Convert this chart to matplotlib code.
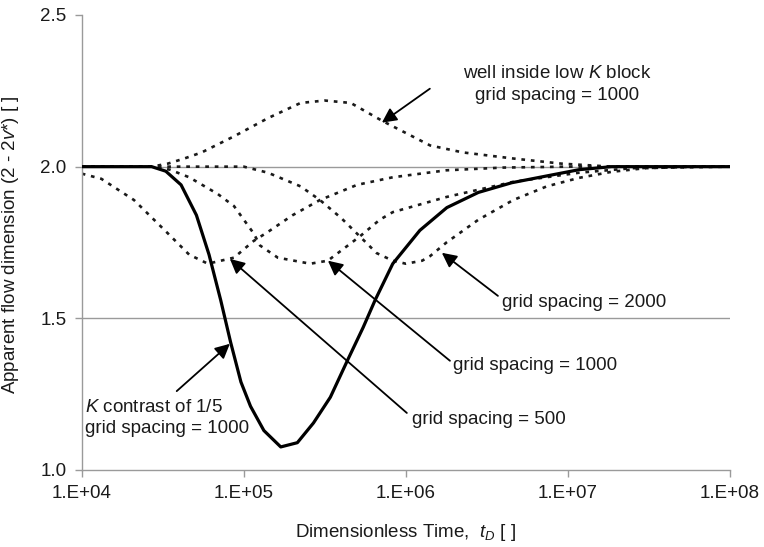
import matplotlib
matplotlib.use('Agg')
import numpy as np
from matplotlib import pyplot as plt

# K contrast of 1/5, grid spacing 1000 (solid)
t_contrast = [1.0e4, 2.0e4, 2.7e4, 3.3e4, 4.1e4, 5.1e4, 6.1e4, 7.2e4, 8.3e4, 9.6e4,
              1.1e5, 1.33e5, 1.69e5, 2.14e5, 2.69e5, 3.42e5, 4.35e5, 5.45e5, 6.46e5,
              8.3e5, 1.22e6, 1.79e6, 2.8e6, 4.5e6, 1.17e7, 1.86e7, 1.0e8]
n_contrast = [2.0, 2.0, 2.0, 1.985, 1.94, 1.84, 1.71, 1.56, 1.42, 1.29,
              1.21, 1.13, 1.076, 1.09, 1.155, 1.24, 1.36, 1.47, 1.56,
              1.68, 1.79, 1.865, 1.915, 1.947, 1.99, 2.0, 2.0]

# well inside low K block, grid spacing 1000
t_lowk = [1.0e4, 2.7e4, 3.4e4, 4.3e4, 5.5e4, 8.7e4, 1.41e5, 2.24e5, 3.16e5, 4.57e5,
          7.2e5, 1.41e6, 2.24e6, 4.57e6, 9.1e6, 1.86e7, 1.0e8]
n_lowk = [2.0, 2.0, 2.01, 2.027, 2.047, 2.10, 2.16, 2.21, 2.218, 2.21,
          2.15, 2.07, 2.047, 2.027, 2.01, 2.0, 2.0]

# grid spacing 500
t_500 = [1.0e4, 1.32e4, 2.1e4, 3.4e4, 4.6e4, 6.0e4, 8.7e4, 1.15e5, 1.41e5, 2.0e5,
         2.95e5, 5.0e5, 8.3e5, 1.78e6, 4.0e6, 1.0e7, 1.0e8]
n_500 = [1.977, 1.96, 1.89, 1.78, 1.71, 1.68, 1.70, 1.755, 1.785, 1.84,
         1.89, 1.94, 1.965, 1.988, 1.997, 2.0, 2.0]

# grid spacing 1000
t_1000 = [1.0e4, 2.7e4, 3.5e4, 4.6e4, 6.9e4, 8.7e4, 1.15e5, 1.26e5, 1.62e5, 2.57e5,
          3.3e5, 5.2e5, 6.9e5, 8.3e5, 1.78e6, 4.6e6, 1.17e7, 2.5e7, 1.0e8]
n_1000 = [2.0, 2.0, 1.99, 1.965, 1.91, 1.87, 1.78, 1.74, 1.70, 1.68,
          1.69, 1.77, 1.825, 1.85, 1.90, 1.95, 1.98, 1.995, 2.0]

# grid spacing 2000
t_2000 = [1.0e4, 1.0e5, 1.41e5, 2.24e5, 2.95e5, 4.0e5, 5.2e5, 6.6e5, 8.3e5, 1.0e6,
          1.26e6, 1.41e6, 1.78e6, 2.8e6, 4.6e6, 7.4e6, 1.17e7, 1.86e7, 3.0e7, 6.3e7, 1.0e8]
n_2000 = [2.0, 2.0, 1.98, 1.935, 1.89, 1.83, 1.77, 1.715, 1.69, 1.68,
          1.69, 1.705, 1.75, 1.825, 1.89, 1.935, 1.963, 1.983, 1.995, 2.0, 2.0]

x_ticks = [1e4, 1e5, 1e6, 1e7, 1e8]
x_tick_labels = ['1.E+04', '1.E+05', '1.E+06', '1.E+07', '1.E+08']
y_ticks = [1.0, 1.5, 2.0, 2.5]
y_tick_labels = ['1.0', '1.5', '2.0', '2.5']


def main():
    plt.rcParams['font.family'] = ['Liberation Sans', 'DejaVu Sans']
    plt.rcParams['font.size'] = 13.5
    plt.rcParams['mathtext.fontset'] = 'custom'
    plt.rcParams['mathtext.rm'] = 'Liberation Sans'
    plt.rcParams['mathtext.it'] = 'Liberation Sans:italic'
    txt = '#1a1a1a'
    gray = '#9a9a9a'

    fig = plt.figure(figsize=(7.64, 5.47), dpi=100)
    ax = fig.add_axes([0.107, 0.1408, 0.8485, 0.8318])

    ax.axhline(2.0, color=gray, lw=1.0, zorder=1)
    ax.axhline(1.5, color=gray, lw=1.0, zorder=1)

    dots = dict(color='#1a1a1a', lw=1.9, linestyle=(0, (1.4, 2.2)), zorder=2)
    ax.plot(t_lowk, n_lowk, **dots)
    ax.plot(t_500, n_500, **dots)
    ax.plot(t_1000, n_1000, **dots)
    ax.plot(t_2000, n_2000, **dots)
    ax.plot(t_contrast, n_contrast, color='black', lw=2.3, zorder=3)

    ax.set_xscale('log')
    ax.set_xlim(1e4, 1e8)
    ax.set_ylim(1.0, 2.5)
    ax.set_xticks(x_ticks)
    ax.set_xticklabels(x_tick_labels)
    ax.minorticks_off()
    ax.set_yticks(y_ticks)
    ax.set_yticklabels(y_tick_labels)
    ax.tick_params(axis='both', direction='out', length=5, width=1, color=gray,
                   labelcolor=txt, labelsize=13.5, pad=6)
    for side in ['top', 'right']:
        ax.spines[side].set_visible(False)
    for side in ['left', 'bottom']:
        ax.spines[side].set_color(gray)
        ax.spines[side].set_linewidth(1.0)

    ax.set_xlabel(r'Dimensionless Time,  $\mathit{t}_{\mathit{D}}$ [ ]', color=txt, fontsize=13.5)
    ax.xaxis.set_label_coords(0.5, -0.114)
    ax.set_ylabel(r'Apparent flow dimension (2 - 2$\mathit{v}$*) [ ]', color=txt, fontsize=13.5)
    ax.yaxis.set_label_coords(-0.093, 0.495)

    arrow = dict(arrowstyle='-|>', color='black', lw=1.3, mutation_scale=22,
                 shrinkA=0, shrinkB=0)
    # (head, tail) in data coordinates
    arrows = [
        ((10 ** 5.852, 2.145), (10 ** 6.148, 2.257)),
        ((10 ** 6.222, 1.716), (10 ** 6.568, 1.574)),
        ((10 ** 5.519, 1.690), (10 ** 6.272, 1.360)),
        ((10 ** 4.914, 1.696), (10 ** 6.006, 1.188)),
        ((10 ** 4.914, 1.416), (10 ** 4.586, 1.260)),
    ]
    for head, tail in arrows:
        ax.annotate('', xy=head, xytext=tail, arrowprops=arrow, zorder=4)

    ax.text(10 ** 6.932, 2.27, 'well inside low $\\mathit{K}$ block\ngrid spacing = 1000',
            ha='center', va='center', multialignment='center', linespacing=1.35, color=txt)
    ax.text(10 ** 6.593, 1.551, 'grid spacing = 2000', ha='left', va='center', color=txt)
    ax.text(10 ** 6.29, 1.343, 'grid spacing = 1000', ha='left', va='center', color=txt)
    ax.text(10 ** 6.037, 1.168, 'grid spacing = 500', ha='left', va='center', color=txt)
    ax.text(10 ** 4.019, 1.172, '$\\mathit{K}$ contrast of 1/5\ngrid spacing = 1000',
            ha='left', va='center', linespacing=1.35, color=txt)

    fig.savefig('out.png', dpi=100)


if __name__ == '__main__':
    main()
